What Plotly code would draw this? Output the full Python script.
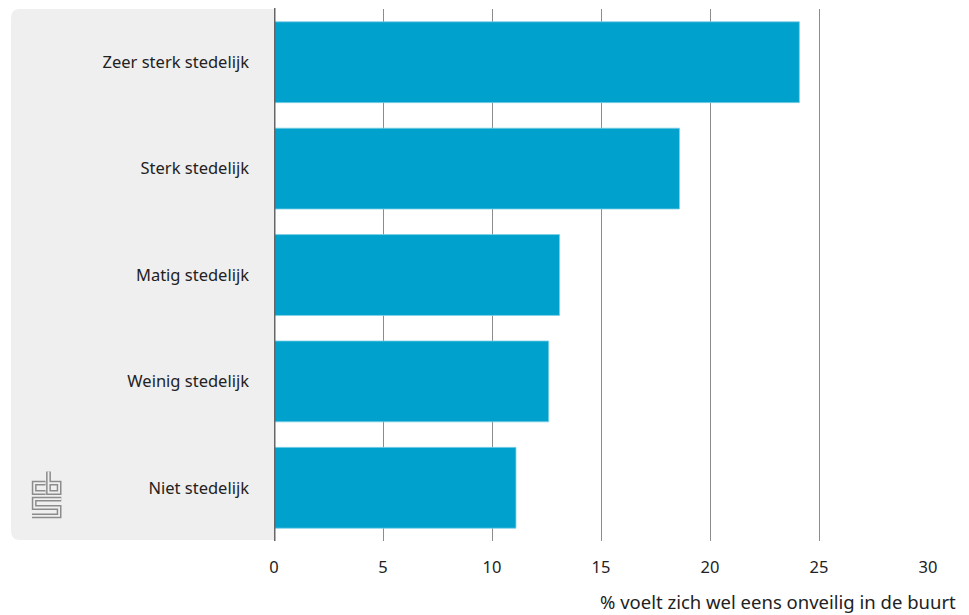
import plotly.graph_objects as go

categories = ["Zeer sterk stedelijk", "Sterk stedelijk", "Matig stedelijk", "Weinig stedelijk", "Niet stedelijk"]
values = [24.1, 18.6, 13.1, 12.6, 11.1]
tick_values = [0, 5, 10, 15, 20, 25, 30]
x_title = "% voelt zich wel eens onveilig in de buurt"

# the page adds an 8px body margin; lay out in reference pixels and shift
OFF = 8
W, H = 969 - OFF, 615 - OFF
X0_REF, X30_REF, TOP_REF, BOT_REF = 274, 928, 9, 541
ML = X0_REF - OFF
MR = W - (X30_REF - OFF)
MT = TOP_REF - OFF
MB = H - (BOT_REF - OFF)
PW = W - ML - MR
PH = H - MT - MB

def px(x):
    return (x - OFF - ML) / PW

def py(y):
    return (H - MB - (y - OFF)) / PH

FONT = "Noto Sans"
TXT = "#222222"
PANEL = "#efefef"

fig = go.Figure()
fig.add_trace(go.Bar(
    y=categories, x=values, orientation="h",
    marker=dict(color="#00a1cd", line=dict(color="#7fd0e6", width=0.8)),
    hoverinfo="x+y",
))

shapes = []
# grey rounded panel behind labels
r = 9
x0, x1, y0, y1 = 11, 274, 9, 540
path = (f"M {px(x0+r)},{py(y0)} L {px(x1)},{py(y0)} L {px(x1)},{py(y1)} "
        f"L {px(x0+r)},{py(y1)} Q {px(x0)},{py(y1)} {px(x0)},{py(y1-r)} "
        f"L {px(x0)},{py(y0+r)} Q {px(x0)},{py(y0)} {px(x0+r)},{py(y0)} Z")
shapes.append(dict(type="path", xref="paper", yref="paper", path=path,
                   fillcolor=PANEL, line=dict(width=0), layer="below"))

# CBS logo (outlined meander)
logo_paths = [
    [(45.5, 483.2), (34.2, 483.2), (34.2, 492.5), (45.5, 492.5)],
    [(48.5, 471.5), (48.5, 492.5), (59.1, 492.5), (59.1, 483.2), (48.5, 483.2)],
    [(61.3, 499.2), (34.2, 499.2), (34.2, 507.5), (59.1, 507.5), (59.1, 515.9), (32, 515.9)],
]
for pts in logo_paths:
    d = "M " + " L ".join(f"{px(a)},{py(b)}" for a, b in pts)
    shapes.append(dict(type="path", xref="paper", yref="paper", path=d,
                       line=dict(color="#8c8c8c", width=4.8), layer="above"))
for pts in logo_paths:
    d = "M " + " L ".join(f"{px(a)},{py(b)}" for a, b in pts)
    shapes.append(dict(type="path", xref="paper", yref="paper", path=d,
                       line=dict(color=PANEL, width=1.8), layer="above"))

# y axis line
shapes.append(dict(type="line", xref="x", yref="paper", x0=0, x1=0,
                   y0=py(541), y1=py(8), line=dict(color="#666666", width=3)))

fig.update_layout(
    width=W, height=H,
    margin=dict(l=ML, r=MR, t=MT, b=MB),
    paper_bgcolor="white", plot_bgcolor="rgba(0,0,0,0)",
    font=dict(family=FONT, size=16.5, color=TXT),
    bargap=0.24,
    showlegend=False,
    shapes=shapes,
    xaxis=dict(range=[0, 30], tickvals=tick_values, ticktext=[str(v) for v in tick_values],
               showgrid=True, gridcolor="#8c8c8c", gridwidth=1.2, zeroline=False,
               showline=False, ticks="", ticklabelstandoff=14,
               tickfont=dict(size=16.5, color=TXT)),
    yaxis=dict(categoryorder="array", categoryarray=categories, autorange="reversed",
               showgrid=False, zeroline=False, showline=False, ticks="",
               ticklabelstandoff=24, tickfont=dict(size=16.5, color=TXT)),
    annotations=[dict(text=x_title, xref="paper", yref="paper",
                      x=px(958), y=py(601), xanchor="right", yanchor="middle",
                      showarrow=False, font=dict(size=18.5, color=TXT))],
)

fig.write_html("out.html")
